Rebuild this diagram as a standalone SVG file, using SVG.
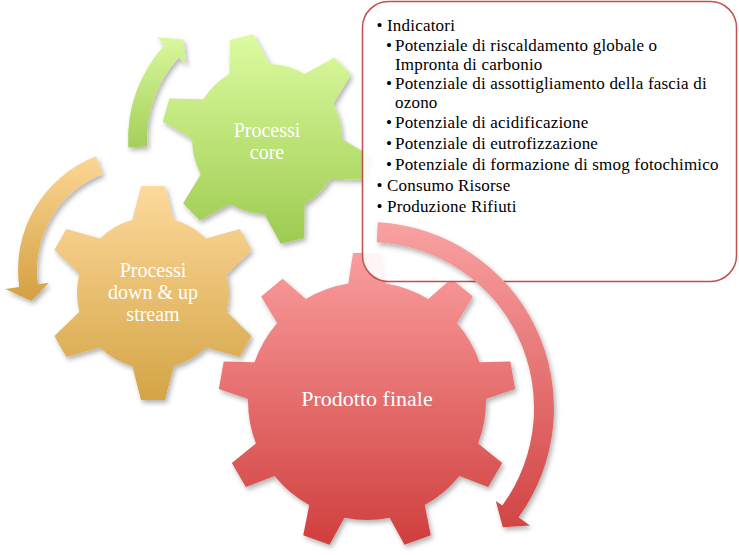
<svg xmlns="http://www.w3.org/2000/svg" width="739" height="555" viewBox="0 0 739 555">
<style>
.lbl{font-family:'Liberation Serif','DejaVu Serif','Times New Roman',serif;font-size:22px;fill:#ffffff;text-anchor:middle}
.lbl2{font-size:20px}
.box{font-family:'Liberation Serif','DejaVu Serif','Times New Roman',serif;font-size:17px;fill:#000000;letter-spacing:0.2px}
</style>
<defs>
<filter id="shadow" x="-10%" y="-10%" width="125%" height="125%">
<feDropShadow dx="2" dy="3" stdDeviation="2.5" flood-color="#000" flood-opacity="0.3"/>
</filter>
<linearGradient id="gRed" x1="0" y1="0" x2="0" y2="1"><stop offset="0" stop-color="#fa9d9d"/><stop offset="1" stop-color="#cf3d3c"/></linearGradient>
<linearGradient id="gRedA" x1="0" y1="0" x2="0" y2="1"><stop offset="0" stop-color="#f9a2a2"/><stop offset="1" stop-color="#d24444"/></linearGradient>
<linearGradient id="gOr" x1="0" y1="0" x2="0" y2="1"><stop offset="0" stop-color="#fdd99b"/><stop offset="1" stop-color="#d4a446"/></linearGradient>
<linearGradient id="gOrA" x1="0" y1="0" x2="0" y2="1"><stop offset="0" stop-color="#fcd794"/><stop offset="1" stop-color="#d3a042"/></linearGradient>
<linearGradient id="gGr" x1="0" y1="0" x2="0" y2="1"><stop offset="0" stop-color="#ddfba0"/><stop offset="1" stop-color="#9dcb50"/></linearGradient>
<linearGradient id="gGrA" x1="0" y1="0" x2="0" y2="1"><stop offset="0" stop-color="#d9f89c"/><stop offset="1" stop-color="#a4cf5a"/></linearGradient>
<clipPath id="clipRed">
<circle cx="367" cy="401" r="119"/>
<path d="M353,253 L381,253 L386.7,290 L347.3,290 Z"/>
<path d="M353,253 L381,253 L386.7,290 L347.3,290 Z" transform="rotate(40 367 401)"/>
<path d="M353,253 L381,253 L386.7,290 L347.3,290 Z" transform="rotate(80 367 401)"/>
<path d="M353,253 L381,253 L386.7,290 L347.3,290 Z" transform="rotate(120 367 401)"/>
<path d="M353,253 L381,253 L386.7,290 L347.3,290 Z" transform="rotate(160 367 401)"/>
<path d="M353,253 L381,253 L386.7,290 L347.3,290 Z" transform="rotate(200 367 401)"/>
<path d="M353,253 L381,253 L386.7,290 L347.3,290 Z" transform="rotate(240 367 401)"/>
<path d="M353,253 L381,253 L386.7,290 L347.3,290 Z" transform="rotate(280 367 401)"/>
<path d="M353,253 L381,253 L386.7,290 L347.3,290 Z" transform="rotate(320 367 401)"/>
</clipPath>
<clipPath id="clipOr">
<circle cx="153" cy="293" r="76"/>
<path d="M141,186 L165,186 L175,225 L131,225 Z"/>
<path d="M141,186 L165,186 L175,225 L131,225 Z" transform="rotate(60 153 293)"/>
<path d="M141,186 L165,186 L175,225 L131,225 Z" transform="rotate(120 153 293)"/>
<path d="M141,186 L165,186 L175,225 L131,225 Z" transform="rotate(180 153 293)"/>
<path d="M141,186 L165,186 L175,225 L131,225 Z" transform="rotate(240 153 293)"/>
<path d="M141,186 L165,186 L175,225 L131,225 Z" transform="rotate(300 153 293)"/>
</clipPath>
<clipPath id="clipGr">
<circle cx="267" cy="139" r="75"/>
<path d="M255,34 L279,34 L289.1,72 L244.9,72 Z" transform="rotate(-14 267 139)"/>
<path d="M255,34 L279,34 L289.1,72 L244.9,72 Z" transform="rotate(46 267 139)"/>
<path d="M255,34 L279,34 L289.1,72 L244.9,72 Z" transform="rotate(106 267 139)"/>
<path d="M255,34 L279,34 L289.1,72 L244.9,72 Z" transform="rotate(166 267 139)"/>
<path d="M255,34 L279,34 L289.1,72 L244.9,72 Z" transform="rotate(226 267 139)"/>
<path d="M255,34 L279,34 L289.1,72 L244.9,72 Z" transform="rotate(286 267 139)"/>
</clipPath>
</defs>

<g id="node-prodotto-finale">
<g filter="url(#shadow)"><rect x="219" y="253" width="296" height="296" fill="url(#gRed)" clip-path="url(#clipRed)"/></g>
<text class="lbl" x="367" y="405.5">Prodotto finale</text>
</g>

<g id="node-processi-down-up">
<g filter="url(#shadow)"><rect x="46" y="186" width="214" height="214" fill="url(#gOr)" clip-path="url(#clipOr)"/></g>
<text class="lbl lbl2" x="153" y="277"><tspan x="153" y="277">Processi</tspan><tspan x="153" y="299.2">down &amp; up</tspan><tspan x="153" y="321.4">stream</tspan></text>
</g>

<g id="node-processi-core">
<g filter="url(#shadow)"><rect x="162" y="34" width="210" height="210" fill="url(#gGr)" clip-path="url(#clipGr)"/></g>
<text class="lbl lbl2" x="267" y="136.5"><tspan x="267" y="136.5">Processi</tspan><tspan x="267" y="158.7">core</tspan></text>
</g>

<g id="node-indicatori">
<rect x="362.5" y="1.5" width="374" height="280" rx="26" ry="26" fill="#ffffff" fill-opacity="0.9" stroke="#c0504d" stroke-width="1.5"/>
<text class="box" x="376.5" y="31">•</text><text class="box" x="387" y="31">Indicatori</text>
<text class="box" x="386" y="51">•</text><text class="box" x="395" y="51">Potenziale di riscaldamento globale o</text>
<text class="box" x="395" y="70">Impronta di carbonio</text>
<text class="box" x="386" y="88.5">•</text><text class="box" x="395" y="88.5">Potenziale di assottigliamento della fascia di</text>
<text class="box" x="395" y="107.5">ozono</text>
<text class="box" x="386" y="128">•</text><text class="box" x="395" y="128">Potenziale di acidificazione</text>
<text class="box" x="386" y="149">•</text><text class="box" x="395" y="149">Potenziale di eutrofizzazione</text>
<text class="box" x="386" y="170">•</text><text class="box" x="395" y="170">Potenziale di formazione di smog fotochimico</text>
<text class="box" x="376.5" y="191">•</text><text class="box" x="387" y="191">Consumo Risorse</text>
<text class="box" x="376.5" y="212">•</text><text class="box" x="387" y="212">Produzione Rifiuti</text>
</g>

<g id="connectors" filter="url(#shadow)">
<path d="M128.3,147.5 A139,139 0 0 1 164.8,44.7 L156.8,37.3 L183.4,39.4 L186.2,64.4 L178.8,57.6 A120,120 0 0 0 147.2,146.3 Z" fill="url(#gGrA)"/>
<path d="M95.9,156.3 A122,122 0 0 0 19.2,287 L5.3,288.9 L31.4,301.1 L48.9,282.8 L38,284.3 A103,103 0 0 1 102.8,174 Z" fill="url(#gOrA)"/>
<path d="M377.7,222.3 A186,186 0 0 1 518.5,517.3 L529.8,525.6 L502.8,527.3 L495.8,500.9 L502.3,505.6 A166,166 0 0 0 376.7,242.2 Z" fill="url(#gRedA)"/>
</g>
</svg>
